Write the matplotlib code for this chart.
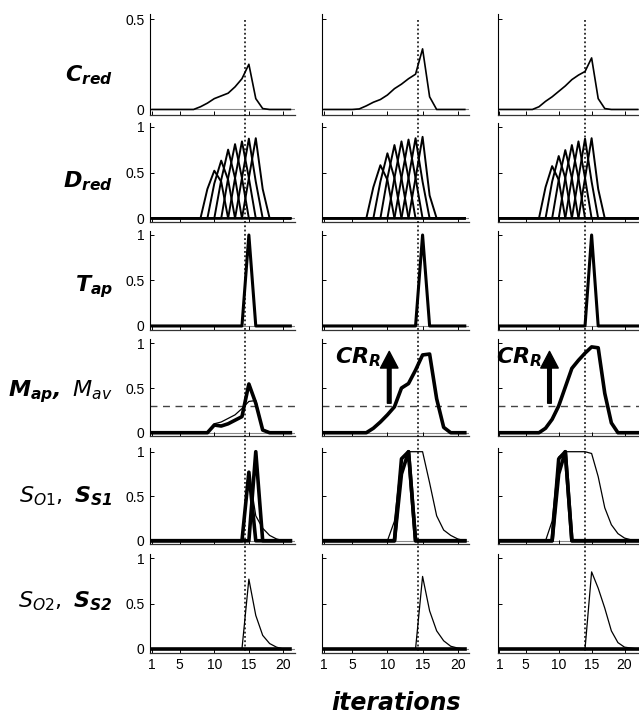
import matplotlib
matplotlib.use('Agg')
import matplotlib.pyplot as plt
import numpy as np
from matplotlib.lines import Line2D
from matplotlib.transforms import blended_transform_factory

plt.rcParams['mathtext.fontset'] = 'custom'
plt.rcParams['mathtext.bf'] = 'DejaVu Sans:bold:italic'
plt.rcParams['mathtext.it'] = 'DejaVu Sans:italic'
plt.rcParams['mathtext.rm'] = 'DejaVu Sans'

# iterations shown in each column (last column runs one step longer)
n_iter = [21, 21, 22]
x_ticks = [1, 5, 10, 15, 20]
marker_x = [14.5, 14.3, 14.0]   # dotted vertical marker per column

# --- C_red (one curve per column, values at x = 1..n) ---
c_red_1 = [0, 0, 0, 0, 0, 0, 0, 0.015, 0.035, 0.06, 0.075, 0.09, 0.125, 0.17, 0.25, 0.06, 0.005, 0, 0, 0, 0]
c_red_2 = [0, 0, 0, 0, 0, 0.003, 0.02, 0.04, 0.055, 0.08, 0.115, 0.14, 0.17, 0.195, 0.335, 0.07, 0, 0, 0, 0, 0]
c_red_3 = [0, 0, 0, 0, 0, 0, 0.015, 0.045, 0.07, 0.10, 0.13, 0.165, 0.19, 0.21, 0.285, 0.06, 0.005, 0, 0, 0, 0, 0]

# --- D_red (seven shifted curves per column: start iteration + values) ---
d_red_starts_1 = [8, 9, 10, 11, 12, 13, 14]
d_red_curves_1 = [[0, 0.32, 0.52, 0.40, 0], [0, 0.38, 0.63, 0.42, 0], [0, 0.42, 0.75, 0.44, 0],
                  [0, 0.44, 0.81, 0.44, 0], [0, 0.44, 0.84, 0.44, 0], [0, 0.44, 0.87, 0.40, 0],
                  [0, 0.44, 0.875, 0.32, 0]]
d_red_starts_2 = [7, 8, 9, 10, 11, 12, 13]
d_red_curves_2 = [[0, 0.34, 0.58, 0.42, 0], [0, 0.40, 0.71, 0.44, 0], [0, 0.44, 0.80, 0.44, 0],
                  [0, 0.44, 0.84, 0.44, 0], [0, 0.44, 0.86, 0.44, 0], [0, 0.44, 0.875, 0.40, 0],
                  [0, 0.44, 0.89, 0.25, 0]]
d_red_starts_3 = [7, 8, 9, 10, 11, 12, 13]
d_red_curves_3 = [[0, 0.34, 0.57, 0.42, 0], [0, 0.40, 0.68, 0.44, 0], [0, 0.42, 0.745, 0.44, 0],
                  [0, 0.44, 0.80, 0.44, 0], [0, 0.44, 0.84, 0.44, 0], [0, 0.44, 0.87, 0.40, 0],
                  [0, 0.44, 0.875, 0.32, 0]]

# --- T_ap ---
t_ap_start = [14, 14, 14]
t_ap_seg = [0, 1.0, 0]

# --- M_ap (thick) and M_av (thin) ---
m_ap_1 = [0, 0, 0, 0, 0, 0, 0, 0, 0, 0.086, 0.075, 0.10, 0.14, 0.18, 0.545, 0.33, 0.03, 0, 0, 0, 0]
m_av_1 = [0, 0, 0, 0, 0, 0, 0, 0, 0, 0.10, 0.12, 0.16, 0.20, 0.27, 0.35, 0.36, 0.04, 0, 0, 0, 0]
m_ap_2 = [0, 0, 0, 0, 0, 0, 0, 0.05, 0.12, 0.20, 0.29, 0.50, 0.55, 0.70, 0.87, 0.88, 0.38, 0.06, 0, 0, 0]
m_av_2 = [0, 0, 0, 0, 0, 0, 0, 0.05, 0.12, 0.20, 0.29, 0.49, 0.55, 0.70, 0.87, 0.88, 0.38, 0.06, 0, 0, 0]
m_ap_3 = [0, 0, 0, 0, 0, 0, 0, 0.05, 0.15, 0.30, 0.51, 0.72, 0.81, 0.89, 0.96, 0.95, 0.44, 0.11, 0, 0, 0, 0]
m_av_3 = [0, 0, 0, 0, 0, 0, 0, 0.05, 0.15, 0.30, 0.51, 0.72, 0.81, 0.89, 0.96, 0.95, 0.44, 0.11, 0, 0, 0, 0]
m_threshold = 0.3

# --- S_O1 (thin) and S_S1 (thick, two overlapping spikes) ---
s_o1_1 = [0, 0, 0, 0, 0, 0, 0, 0, 0, 0, 0, 0, 0, 0, 0.77, 0.28, 0.14, 0.06, 0.02, 0, 0]
s_s1_1a = [0, 0, 0, 0, 0, 0, 0, 0, 0, 0, 0, 0, 0, 0, 0.77, 0, 0, 0, 0, 0, 0]
s_s1_1b = [0, 0, 0, 0, 0, 0, 0, 0, 0, 0, 0, 0, 0, 0, 0, 1.0, 0, 0, 0, 0, 0]
s_o1_2 = [0, 0, 0, 0, 0, 0, 0, 0, 0, 0, 0.22, 0.93, 1.0, 1.0, 1.0, 0.65, 0.28, 0.12, 0.06, 0.02, 0]
s_s1_2a = [0, 0, 0, 0, 0, 0, 0, 0, 0, 0, 0, 0.92, 1.0, 0, 0, 0, 0, 0, 0, 0, 0]
s_s1_2b = [0, 0, 0, 0, 0, 0, 0, 0, 0, 0, 0, 0.75, 1.0, 0, 0, 0, 0, 0, 0, 0, 0]
s_o1_3 = [0, 0, 0, 0, 0, 0, 0, 0, 0.22, 0.94, 1.0, 1.0, 1.0, 1.0, 0.98, 0.72, 0.37, 0.18, 0.08, 0.03, 0.01, 0]
s_s1_3a = [0, 0, 0, 0, 0, 0, 0, 0, 0, 0.92, 1.0, 0, 0, 0, 0, 0, 0, 0, 0, 0, 0, 0]
s_s1_3b = [0, 0, 0, 0, 0, 0, 0, 0, 0, 0.75, 1.0, 0, 0, 0, 0, 0, 0, 0, 0, 0, 0, 0]

# --- S_O2 (thin) and S_S2 (thick, flat) ---
s_o2_1 = [0, 0, 0, 0, 0, 0, 0, 0, 0, 0, 0, 0, 0, 0, 0.77, 0.37, 0.15, 0.06, 0.02, 0, 0]
s_o2_2 = [0, 0, 0, 0, 0, 0, 0, 0, 0, 0, 0, 0, 0, 0, 0.80, 0.42, 0.20, 0.09, 0.03, 0.01, 0]
s_o2_3 = [0, 0, 0, 0, 0, 0, 0, 0, 0, 0, 0, 0, 0, 0, 0.85, 0.67, 0.45, 0.20, 0.07, 0.02, 0.01, 0]
s_s2_1 = [0] * 21
s_s2_2 = [0] * 21
s_s2_3 = [0] * 22

row_labels = [r'$\mathbf{C_{red}}$', r'$\mathbf{D_{red}}$', r'$\mathbf{T_{ap}}$',
              r'$\mathbf{M_{ap},}\ M_{av}$', r'$S_{O1},\ \mathbf{S_{S1}}$', r'$S_{O2},\ \mathbf{S_{S2}}$']

# layout in pixels
W, H = 639, 716
col_left = [150, 322, 497.5]
col_width = [144.5, 147, 141.5]
col_xmax = [21.6, 21.6, 22.2]
row_top = [13.6, 122.6, 230.9, 339.3, 447.7, 554.2]
row_height = [101.3, 99.4, 98.7, 97.0, 96.6, 98.4]
row_label_y = [75, 181, 287, 392, 496, 601]


def pad(start, seg, n):
    # place a short segment into a zero series of length n (start is 1-based)
    y = np.zeros(n)
    y[start - 1:start - 1 + len(seg)] = seg
    return y


def style_axes(ax, row, col):
    ax.set_xlim(0.7, col_xmax[col])
    if row == 0:
        ax.set_ylim(-0.03, 0.53)
        ax.set_yticks([0, 0.5])
        ax.set_yticklabels(['0', '0.5'])
    else:
        ax.set_ylim(-0.04, 1.045)
        ax.set_yticks([0, 0.5, 1])
        ax.set_yticklabels(['0', '0.5', '1'])
    ax.set_xticks(x_ticks)
    ax.spines['top'].set_visible(False)
    ax.spines['right'].set_visible(False)
    ax.spines['left'].set_linewidth(0.8)
    ax.spines['bottom'].set_linewidth(0.9)
    ax.spines['bottom'].set_color('#333333')
    ax.tick_params(direction='in', length=3, width=0.7, labelsize=10, pad=4)
    if col > 0:
        ax.tick_params(labelleft=False)
    if row < 5:
        ax.tick_params(labelbottom=False)
    for lab in ax.get_xticklabels() + ax.get_yticklabels():
        lab.set_fontfamily('Liberation Sans')
    ax.axhline(0, color='#888888', lw=0.8, zorder=1)


fig = plt.figure(figsize=(W / 100, H / 100), dpi=100)

c_red = [c_red_1, c_red_2, c_red_3]
d_starts = [d_red_starts_1, d_red_starts_2, d_red_starts_3]
d_curves = [d_red_curves_1, d_red_curves_2, d_red_curves_3]
m_ap = [m_ap_1, m_ap_2, m_ap_3]
m_av = [m_av_1, m_av_2, m_av_3]
s_o1 = [s_o1_1, s_o1_2, s_o1_3]
s_s1 = [[s_s1_1a, s_s1_1b], [s_s1_2a, s_s1_2b], [s_s1_3a, s_s1_3b]]
s_o2 = [s_o2_1, s_o2_2, s_o2_3]
s_s2 = [s_s2_1, s_s2_2, s_s2_3]

axes = []
for row in range(6):
    axes_row = []
    for col in range(3):
        rect = [col_left[col] / W, 1 - (row_top[row] + row_height[row]) / H,
                col_width[col] / W, row_height[row] / H]
        ax = fig.add_axes(rect)
        style_axes(ax, row, col)
        axes_row.append(ax)
    axes.append(axes_row)

for col in range(3):
    n = n_iter[col]
    x = np.arange(1, n + 1)

    axes[0][col].plot(x, c_red[col], color='k', lw=1.2)

    for s, seg in zip(d_starts[col], d_curves[col]):
        axes[1][col].plot(x, pad(s, seg, n), color='k', lw=1.4)

    axes[2][col].plot(x, pad(t_ap_start[col], t_ap_seg, n), color='k', lw=2.2)

    ax = axes[3][col]
    ax.axhline(m_threshold, color='#444444', lw=1.0, ls=(0, (5, 4)), zorder=1)
    ax.plot(x, m_ap[col], color='k', lw=2.6)
    ax.plot(x, m_av[col], color='k', lw=0.9)

    ax = axes[4][col]
    for ss in s_s1[col]:
        ax.plot(x, ss, color='k', lw=2.6)
    ax.plot(x, s_o1[col], color='k', lw=0.9)

    ax = axes[5][col]
    ax.plot(x, s_s2[col], color='k', lw=2.6)
    ax.plot(x, s_o2[col], color='k', lw=0.9)

    # dotted marker running through all rows of the column
    trans = blended_transform_factory(axes[0][col].transData, fig.transFigure)
    fig.add_artist(Line2D([marker_x[col], marker_x[col]], [1 - 20 / H, 1 - 652 / H],
                          transform=trans, color='k', lw=1.1, ls=(0, (1.2, 1.6))))

# CR_R arrows in the M panels of columns 2 and 3
for col, tx, ax_x in [(1, 2.56, 10.26), (2, 0.54, 8.6)]:
    ax = axes[3][col]
    ax.text(tx, 0.78, r'$\mathbf{CR_R}$', fontsize=16, ha='left', va='baseline', zorder=5)
    ax.annotate('', xy=(ax_x, 0.91), xytext=(ax_x, 0.33),
                arrowprops=dict(arrowstyle='simple,head_length=1.0,head_width=1.05,tail_width=0.22',
                                mutation_scale=12, color='k', shrinkA=0, shrinkB=0))

for row in range(6):
    fig.text(113 / W, 1 - row_label_y[row] / H, row_labels[row], fontsize=16,
             ha='right', va='center')

fig.text(396 / W, 1 - 703 / H, 'iterations', fontsize=17, fontweight='bold',
         fontstyle='italic', family='DejaVu Sans', ha='center', va='center')

fig.savefig('out.png', dpi=100, facecolor='white')
